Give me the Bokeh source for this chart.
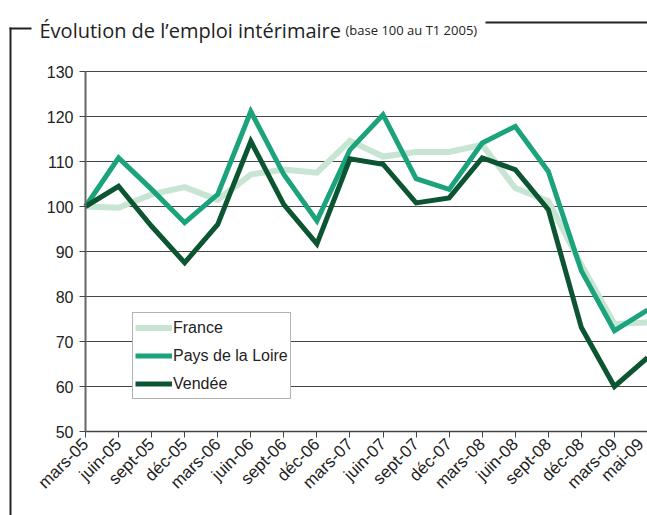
from bokeh.plotting import figure
from bokeh.models import (Range1d, FixedTicker, Legend, LegendItem, Label, BoxAnnotation)
from bokeh.embed import file_html
from bokeh.resources import INLINE
import math

categories = ["mars-05", "juin-05", "sept-05", "déc-05", "mars-06", "juin-06",
              "sept-06", "déc-06", "mars-07", "juin-07", "sept-07", "déc-07",
              "mars-08", "juin-08", "sept-08", "déc-08", "mars-09", "mai-09"]
france = [100, 99.7, 102.7, 104.3, 101.5, 107.1, 108.2, 107.5, 114.6, 111.1,
          112.1, 112.1, 113.7, 104.1, 101.2, 87.0, 73.9, 74.2]
pays_de_la_loire = [100, 110.8, 103.8, 96.4, 102.7, 121.1, 107.1, 96.8, 112.6, 120.4,
                    106.2, 103.8, 114.1, 117.8, 107.8, 85.7, 72.4, 77.0]
vendee = [100, 104.5, 95.6, 87.5, 96.0, 114.5, 100.4, 91.7, 110.6, 109.4,
          100.8, 101.9, 110.8, 108.2, 99.3, 73.1, 60.0, 66.4]
y_ticks = [50, 60, 70, 80, 90, 100, 110, 120, 130]

idx = list(range(len(categories)))

# page layout (pixels): the plotting area spans x 85..647 and y 71..431
W, H = 647, 515
AX_L, AX_R, AX_T, AX_B = 85, 647, 71, 431
n_int = len(categories) - 1
ppx = (AX_R - AX_L) / n_int
ppy = (AX_B - AX_T) / (y_ticks[-1] - y_ticks[0])
x_start = idx[0] - AX_L / ppx
y_end = y_ticks[-1] + AX_T / ppy
y_start = y_ticks[0] - (H - AX_B) / ppy

p = figure(width=W, height=H, output_backend="svg", toolbar_location=None,
           x_range=Range1d(x_start, idx[-1]), y_range=Range1d(y_start, y_end),
           min_border=0, title=None)
p.outline_line_color = None
p.background_fill_color = "white"
p.border_fill_color = "white"
p.xgrid.grid_line_color = None
p.ygrid.grid_line_color = None

# grid lines limited to the plotting area
p.segment(x0=idx[0], x1=idx[-1], y0=y_ticks[1:], y1=y_ticks[1:],
          line_color="#444444", line_width=1)

# axes placed at fixed data locations
p.xaxis.fixed_location = y_ticks[0]
p.xaxis.bounds = (idx[0], idx[-1])
p.yaxis.fixed_location = idx[0]
p.yaxis.bounds = (y_ticks[0], y_ticks[-1])
p.xaxis.ticker = FixedTicker(ticks=idx)
p.xaxis.major_label_overrides = {i: c for i, c in zip(idx, categories)}
p.xaxis.major_label_orientation = math.pi / 4
p.yaxis.ticker = FixedTicker(ticks=y_ticks)
for ax in (p.xaxis[0], p.yaxis[0]):
    ax.axis_line_color = "#444444"
    ax.axis_line_width = 1.5
    ax.major_tick_line_color = "#444444"
    ax.major_tick_line_width = 1
    ax.major_tick_out = 6
    ax.major_tick_in = 0
    ax.minor_tick_line_color = None
    ax.major_label_text_font = "Liberation Sans"
    ax.major_label_text_color = "#222222"
p.yaxis.axis_line_color = "#666666"
p.yaxis.axis_line_width = 2
p.yaxis.major_label_text_font_size = "16px"
p.yaxis.major_label_standoff = 6
p.xaxis.major_label_text_font_size = "17px"
p.xaxis.major_label_standoff = 4

r_fr = p.line(idx, france, line_color="#c8e5d4", line_width=6, line_join="miter")
r_pl = p.line(idx, pays_de_la_loire, line_color="#1ba37c", line_width=5, line_join="miter")
r_ve = p.line(idx, vendee, line_color="#0c5533", line_width=5, line_join="miter")

legend = Legend(items=[LegendItem(label="France", renderers=[r_fr]),
                       LegendItem(label="Pays de la Loire", renderers=[r_pl]),
                       LegendItem(label="Vendée", renderers=[r_ve])],
                location=(132, H - 399), orientation="vertical")
legend.label_text_font = "Liberation Sans"
legend.label_text_font_size = "16px"
legend.label_text_color = "#222222"
legend.glyph_width = 37
legend.glyph_height = 25
legend.label_height = 25
legend.label_standoff = 1
legend.spacing = 3
legend.padding = 2
legend.margin = 0
legend.border_line_color = "#666666"
legend.border_line_width = 1
legend.background_fill_color = "white"
legend.background_fill_alpha = 1
p.add_layout(legend, "center")

# title (screen units: from the bottom-left corner, y upwards)
t1 = Label(x=39, y=H - 30, x_units="screen", y_units="screen",
           text="Évolution de l’emploi intérimaire", text_font="Open Sans",
           text_font_size="20px", text_color="#222222", text_baseline="alphabetic")
t2 = Label(x=345, y=H - 29, x_units="screen", y_units="screen",
           text="(base 100 au T1 2005)", text_font="Open Sans",
           text_font_size="13px", text_color="#222222", text_baseline="alphabetic")
p.add_layout(t1)
p.add_layout(t2)

# decorative bracket around the chart
box_style = dict(fill_color="#222222", fill_alpha=1, line_color=None,
                 left_units="screen", right_units="screen",
                 top_units="screen", bottom_units="screen", level="overlay")
p.add_layout(BoxAnnotation(left=9, right=11, top=H - 27, bottom=0, **box_style))
p.add_layout(BoxAnnotation(left=9, right=31, top=H - 27, bottom=H - 29, **box_style))
p.add_layout(BoxAnnotation(left=485, right=W, top=H - 21, bottom=H - 23, **box_style))

open("out.html", "w").write(file_html(p, INLINE))
